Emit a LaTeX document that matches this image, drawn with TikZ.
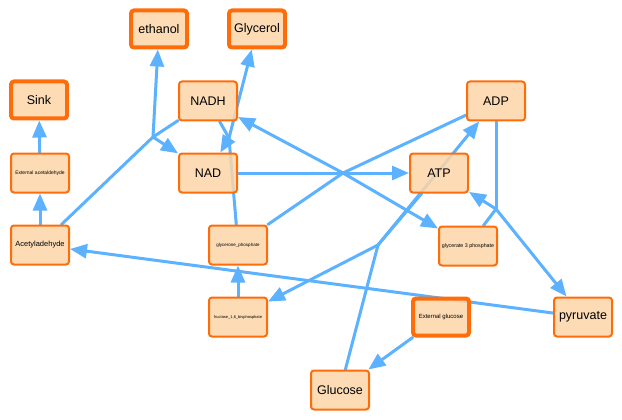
\documentclass[tikz,border=0pt]{standalone}
\usepackage{fontspec}
\setmainfont{Liberation Sans}
\definecolor{flux}{RGB}{92,178,255}
\definecolor{compound}{RGB}{253,214,168}
\definecolor{rim}{RGB}{255,108,10}
\usetikzlibrary{backgrounds,arrows.meta,positioning}
\tikzstyle{metabolite}=[rectangle,rounded corners=3pt,draw=rim,line width=2pt,fill=compound,
fill opacity=0.85,text opacity=1,minimum width=58pt,minimum height=39pt,inner sep=0pt,align=center]
\tikzstyle{sink}=[line width=4pt,minimum width=56pt,minimum height=37pt]
\tikzstyle{reaction}=[draw=flux,line width=3pt,line cap=round]

\begin{document}
\begin{tikzpicture}[x=1pt,y=-1pt,>={Triangle[length=17pt,width=14pt]},font=\fontsize{12.5}{14}\selectfont]
    \useasboundingbox (0,0) rectangle (622,420);

    \node[metabolite,sink] (ethanol) at (159,29) {ethanol};
    \node[metabolite,sink] (glycerol) at (257,29) {Glycerol};
    \node[metabolite,sink] (out) at (39,100) {Sink};
    \node[metabolite] (nadh) at (208,101) {NADH};
    \node[metabolite] (adp) at (496,101) {ADP};
    \node[metabolite,font=\fontsize{5}{6}\selectfont] (extacet) at (40,173) {External acetaldehyde};
    \node[metabolite] (nad) at (208,173) {NAD};
    \node[metabolite] (atp) at (439,173) {ATP};
    \node[metabolite,font=\fontsize{7.5}{9}\selectfont] (acet) at (40,245) {Acetyladehyde};
    \node[metabolite,font=\fontsize{4.5}{5}\selectfont] (dhap) at (238,245) {glycerone\_phosphate};
    \node[metabolite,font=\fontsize{5.3}{6}\selectfont] (g3p) at (468,246) {glycerate 3 phosphate};
    \node[metabolite,font=\fontsize{4}{5}\selectfont] (fbp) at (238,317) {fructose\_1,6\_bisphosphate};
    \node[metabolite,sink,font=\fontsize{6}{7}\selectfont] (extglc) at (441,317) {External glucose};
    \node[metabolite] (pyr) at (583,317) {pyruvate};
    \node[metabolite] (glc) at (340,390) {Glucose};

    \coordinate (r1) at (153,137);
    \coordinate (r2) at (229,138);
    \coordinate (r3) at (343,173);
    \coordinate (r4) at (496,209);
    \coordinate (r5) at (378,245);

    \begin{scope}[on background layer={reaction}]
      \draw[->] (extacet) -- (out);
      \draw[->] (acet) -- (extacet);
      \draw (acet) -- (r1);
      \draw (nadh) -- (r1);
      \draw[->] (r1) -- (ethanol);
      \draw[->] (r1) -- (nad);
      \draw (dhap) -- (r2);
      \draw (nadh) -- (r2);
      \draw[->] (r2) -- (glycerol);
      \draw[->] (r2) -- (nad);
      \draw (nad) -- (r3);
      \draw (dhap) -- (r3);
      \draw (adp) -- (r3);
      \draw[->] (r3) -- (atp);
      \draw[->] (r3) -- (nadh);
      \draw[->] (r3) -- (g3p);
      \draw (adp) -- (r4);
      \draw (g3p) -- (r4);
      \draw[->] (r4) -- (atp);
      \draw[->] (r4) -- (pyr);
      \draw (glc) -- (r5);
      \draw (atp) -- (r5);
      \draw[->] (r5) -- (adp);
      \draw[->] (r5) -- (fbp);
      \draw[->] (fbp) -- (dhap);
      \draw[->] (extglc) -- (glc);
      \draw[->] (pyr) -- (acet);
    \end{scope}
  \end{tikzpicture}
\end{document}
